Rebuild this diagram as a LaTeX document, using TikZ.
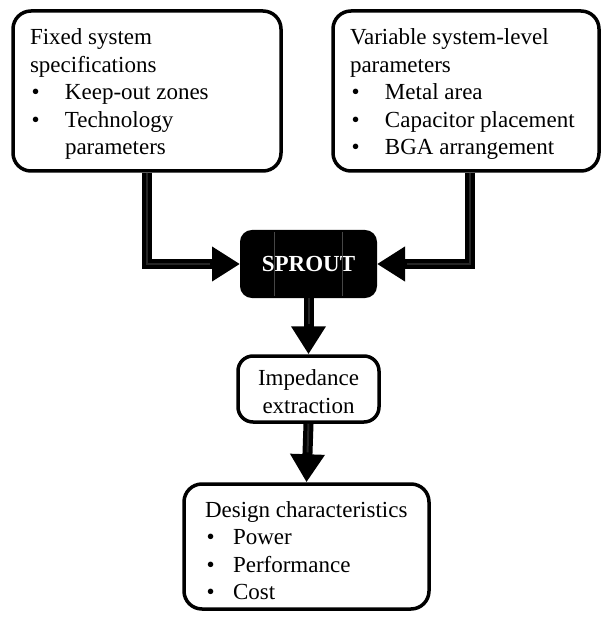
\documentclass[tikz,border=0pt]{standalone}
\usepackage{fontspec}
\setmainfont{Liberation Serif}
\usetikzlibrary{arrows.meta,calc}
\newcommand\itm[2][35pt]{\makebox[#1][l]{\hspace{1.5pt}\textbullet}#2}
% height, width, top strut, left skip, content
\newcommand\boxtext[5]{\parbox[c][#1][t]{#2}{\fontsize{23}{27.5}\selectfont\raggedright\leftskip=#4\relax\rule{0pt}{#3}#5}}
\tikzset{
  box/.style={draw=black, line width=3.5pt, rounded corners=18pt, fill=white, inner sep=0pt},
  blackbox/.style={draw=black, line width=2pt, rounded corners=11pt, fill=black, inner sep=0pt,
    text=white, font=\fontsize{23}{27.5}\selectfont\bfseries},
  fat/.style={draw=black, line width=10pt, line join=miter, -{Triangle[length=28pt,width=33pt]}},
  stripe/.style={draw=gray!30!black, line width=2pt, line join=miter, shorten >=30pt},
  seam/.style={draw=gray!55!black, line width=0.6pt}
}
\begin{document}
\begin{tikzpicture}[x=1pt,y=-1pt]
\useasboundingbox (0,0) rectangle (602,617);

\node[box, minimum width=268pt, minimum height=160pt] (fixed) at (147,91)
  {\boxtext{160pt}{268pt}{34pt}{17pt}{Fixed system\\specifications\\\itm{Keep-out zones}\\\itm{Technology}\\\hspace*{35pt}parameters}};

\node[box, minimum width=266pt, minimum height=160pt] (var) at (466,91)
  {\boxtext{160pt}{266pt}{34pt}{17pt}{Variable system-level\\parameters\\\itm{Metal area}\\\itm{Capacitor placement}\\\itm{BGA arrangement}}};

\node[blackbox, minimum width=135pt, minimum height=66pt] (sprout) at (308.5,264) {SPROUT};
\draw[seam] (274,232) -- (274,296);
\draw[seam] (342,232) -- (342,296);

\node[box, rounded corners=15pt, minimum width=141pt, minimum height=66pt] (imp) at (308.5,389)
  {\parbox[c][66pt][t]{141pt}{\fontsize{23}{28}\selectfont\centering\rule{0pt}{29pt}Impedance\\extraction\par}};

\node[box, minimum width=245pt, minimum height=125pt] (design) at (306.5,546.5)
  {\boxtext{125pt}{245pt}{33pt}{21pt}{Design characteristics\\\itm[28pt]{Power}\\\itm[28pt]{Performance}\\\itm[28pt]{Cost}}};

\draw[fat] (fixed.south) |- (sprout.west);
\draw[stripe] (fixed.south) |- (sprout.west);
\draw[fat] ($(var.south)+(4,0)$) |- (sprout.east);
\draw[stripe] ($(var.south)+(4,0)$) |- (sprout.east);
\draw[fat] (sprout.south) -- (imp.north);
\draw[stripe] (sprout.south) -- (imp.north);
\draw[fat] (imp.south) -- (design.north);
\draw[stripe] (imp.south) -- (design.north);
\end{tikzpicture}
\end{document}
